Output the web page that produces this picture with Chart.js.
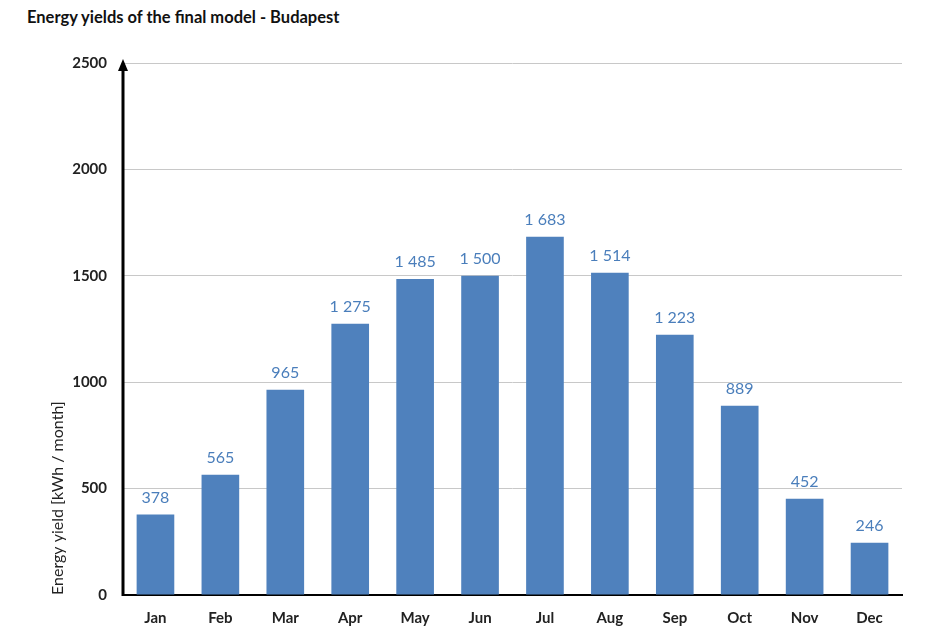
<!DOCTYPE html>
<html>
<head>
<meta charset="utf-8">
<script src="https://cdn.jsdelivr.net/npm/chart.js@4/dist/chart.umd.min.js"></script>
<style>
    html, body { margin: 0; padding: 0; background: #fff; }
    #wrap { position: relative; width: 952px; height: 638px; }
    #title {
        position: absolute; left: 27px; top: 7px;
        font-family: Lato, "Open Sans", sans-serif; font-weight: bold; font-size: 16.5px; color: #111;
    }
    canvas { position: absolute; left: 0; top: 0; }
</style>
</head>
<body>
<div id="wrap">
    <div id="title">Energy yields of the final model - Budapest</div>
    <canvas id="chart" width="952" height="638"></canvas>
</div>
<script>
const months = ['Jan', 'Feb', 'Mar', 'Apr', 'May', 'Jun', 'Jul', 'Aug', 'Sep', 'Oct', 'Nov', 'Dec'];
const yields = [378, 565, 965, 1275, 1485, 1500, 1683, 1514, 1223, 889, 452, 246];
const yTicks = [0, 500, 1000, 1500, 2000, 2500];

const barColor = '#4f81bd';
const labelColor = '#4a7ebb';
const fontFamily = 'Lato, "Open Sans", sans-serif';

function formatValue(v) {
    return String(v).replace(/\B(?=(\d{3})+(?!\d))/g, ' ');
}

// value labels above bars
const valueLabels = {
    id: 'valueLabels',
    afterDatasetsDraw(chart) {
        const ctx = chart.ctx;
        const meta = chart.getDatasetMeta(0);
        ctx.save();
        ctx.font = '16px ' + fontFamily;
        ctx.fillStyle = labelColor;
        ctx.textAlign = 'center';
        ctx.textBaseline = 'alphabetic';
        meta.data.forEach((bar, i) => {
            ctx.fillText(formatValue(yields[i]), bar.x, bar.y - 12);
        });
        ctx.restore();
    }
};

// thick y axis with an arrow head at the top
const axisArrow = {
    id: 'axisArrow',
    afterDraw(chart) {
        const ctx = chart.ctx;
        const area = chart.chartArea;
        const x = area.left;
        ctx.save();
        ctx.strokeStyle = '#000';
        ctx.fillStyle = '#000';
        ctx.lineWidth = 3;
        ctx.beginPath();
        ctx.moveTo(x, area.bottom + 1);
        ctx.lineTo(x, area.top + 4);
        ctx.stroke();
        ctx.beginPath();
        ctx.moveTo(x, area.top - 4);
        ctx.lineTo(x - 5, area.top + 8);
        ctx.lineTo(x + 5, area.top + 8);
        ctx.closePath();
        ctx.fill();
        ctx.restore();
    }
};

new Chart(document.getElementById('chart'), {
    type: 'bar',
    data: {
        labels: months,
        datasets: [{
            data: yields,
            backgroundColor: barColor,
            borderWidth: 0,
            categoryPercentage: 1,
            barPercentage: 0.58
        }]
    },
    options: {
        responsive: false,
        animation: false,
        layout: { padding: { left: 48, right: 50, top: 63, bottom: 5 } },
        plugins: {
            legend: { display: false },
            tooltip: { enabled: false }
        },
        scales: {
            x: {
                grid: { display: false },
                border: { color: '#000', width: 2 },
                ticks: {
                    color: '#222',
                    padding: 6,
                    font: { family: fontFamily, size: 15, weight: 'bold' }
                }
            },
            y: {
                min: 0,
                max: 2500,
                afterBuildTicks: (scale) => {
                    scale.ticks = yTicks.map(v => ({ value: v }));
                },
                afterFit: (scale) => {
                    scale.width = 75;
                },
                grid: { color: '#c8c8c8', lineWidth: 1, drawTicks: false },
                border: { display: false },
                ticks: {
                    color: '#222',
                    padding: 16,
                    callback: (v) => String(v),
                    font: { family: fontFamily, size: 15, weight: 'bold' }
                },
                title: {
                    display: true,
                    text: 'Energy yield [kWh / month]',
                    align: 'start',
                    color: '#222',
                    padding: 0,
                    font: { family: fontFamily, size: 16 }
                }
            }
        }
    },
    plugins: [valueLabels, axisArrow]
});
</script>
</body>
</html>
